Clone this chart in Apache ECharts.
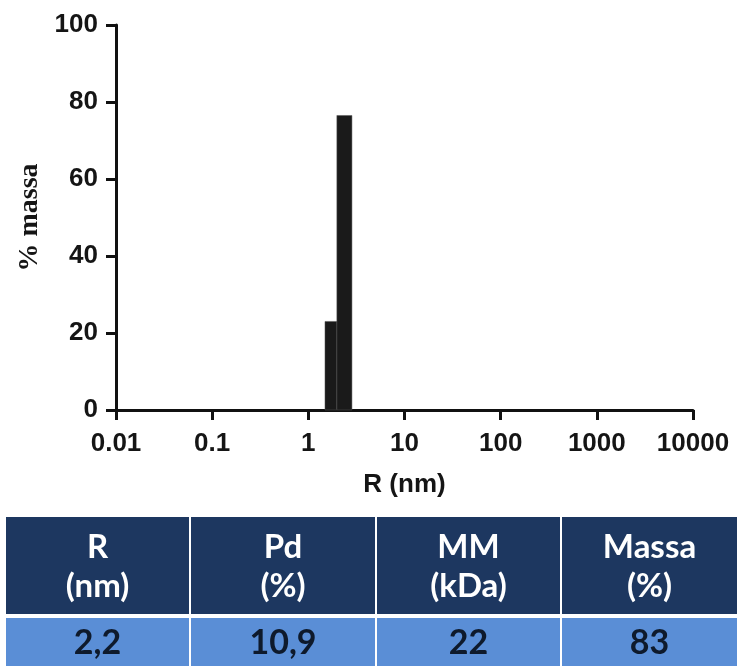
<!DOCTYPE html>
<html>
<head>
<meta charset="utf-8">
<script src="https://cdn.jsdelivr.net/npm/echarts@6/dist/echarts.min.js"></script>
<style>
html,body{margin:0;padding:0;background:#fff;}
#chart{width:737px;height:666px;}
</style>
</head>
<body>
<div id="chart"></div>
<script>
// Histogram bins (R in nm, log scale) and mass percentage
const binStart = [1.49, 1.98];
const binEnd = [1.98, 2.84];
const massPct = [23, 76.5];

const xTickValues = [0.01, 0.1, 1, 10, 100, 1000, 10000];
const xTickLabels = ['0.01', '0.1', '1', '10', '100', '1000', '10000'];
const yTickLabels = ['0', '20', '40', '60', '80', '100'];

// Summary table
const tableHeaders = ['R\n(nm)', 'Pd\n(%)', 'MM\n(kDa)', 'Massa\n(%)'];
const tableValues = ['2,2', '10,9', '22', '83'];

const chart = echarts.init(document.getElementById('chart'), null, {renderer: 'canvas'});

const seriesData = binStart.map((s, i) => [s, binEnd[i], massPct[i]]);

// table geometry
const colEdges = [6, 190, 376, 561, 737];
const headTop = 517, headBot = 614, rowTop = 618, rowBot = 666;
const tableGraphics = [];
for (let i = 0; i < 4; i++) {
  const x0 = colEdges[i] + (i === 0 ? 0 : 1);
  const x1 = colEdges[i + 1] - (i === 3 ? 0 : 1);
  tableGraphics.push({
    type: 'rect', shape: {x: x0, y: headTop, width: x1 - x0, height: headBot - headTop},
    style: {fill: '#1d3760'}, silent: true
  });
  tableGraphics.push({
    type: 'rect', shape: {x: x0, y: rowTop, width: x1 - x0, height: rowBot - rowTop},
    style: {fill: '#5a8ed6'}, silent: true
  });
  tableGraphics.push({
    type: 'text', x: (x0 + x1) / 2, y: (headTop + headBot) / 2 + 1,
    style: {text: tableHeaders[i], fill: '#ffffff', font: 'bold 33px Lato', align: 'center', verticalAlign: 'middle', lineHeight: 39},
    silent: true
  });
  tableGraphics.push({
    type: 'text', x: (x0 + x1) / 2, y: (rowTop + rowBot) / 2 + 1,
    style: {text: tableValues[i], fill: '#0e1a2c', font: 'bold 34px Lato', align: 'center', verticalAlign: 'middle'},
    silent: true
  });
}

const option = {
  backgroundColor: '#ffffff',
  animation: false,
  grid: {left: 116, right: 44, top: 25, bottom: 256, containLabel: false},
  xAxis: {
    type: 'log', logBase: 10, min: 0.01, max: 10000,
    name: 'R (nm)', nameLocation: 'middle', nameGap: 62,
    nameTextStyle: {fontFamily: 'Liberation Sans', fontWeight: 'bold', fontSize: 26, color: '#151515'},
    axisLine: {show: true, onZero: false, lineStyle: {color: '#111', width: 3}},
    axisTick: {show: true, inside: false, length: 10, lineStyle: {color: '#111', width: 3}},
    minorTick: {show: false},
    splitLine: {show: false},
    axisLabel: {
      margin: 21, fontFamily: 'Liberation Sans', fontWeight: 'bold', fontSize: 26, color: '#151515',
      showMinLabel: true, showMaxLabel: true,
      formatter: function (v) {
        for (let i = 0; i < xTickValues.length; i++) {
          if (Math.abs(Math.log10(v) - Math.log10(xTickValues[i])) < 1e-6) return xTickLabels[i];
        }
        return '';
      }
    }
  },
  yAxis: {
    type: 'value', min: 0, max: 100, interval: 20,
    name: '% massa', nameLocation: 'middle', nameGap: 61, nameRotate: 90,
    nameTextStyle: {fontFamily: 'Liberation Serif', fontWeight: 'bold', fontSize: 28, color: '#151515'},
    axisLine: {show: true, lineStyle: {color: '#111', width: 3}},
    axisTick: {show: true, inside: false, length: 10, lineStyle: {color: '#111', width: 3}},
    splitLine: {show: false},
    axisLabel: {
      margin: 18, fontFamily: 'Liberation Sans', fontWeight: 'bold', fontSize: 26, color: '#151515',
      formatter: function (v) { return yTickLabels[Math.round(v / 20)]; }
    }
  },
  series: [{
    type: 'custom',
    data: seriesData,
    encode: {x: [0, 1], y: 2},
    renderItem: function (params, api) {
      const p0 = api.coord([api.value(0), api.value(2)]);
      const p1 = api.coord([api.value(1), 0]);
      return {
        type: 'rect',
        shape: {x: p0[0], y: p0[1], width: p1[0] - p0[0], height: p1[1] - p0[1]},
        style: {fill: '#1a1a1a', stroke: '#555', lineWidth: 0.5}
      };
    }
  }],
  graphic: tableGraphics
};
chart.setOption(option);
</script>
</body>
</html>
